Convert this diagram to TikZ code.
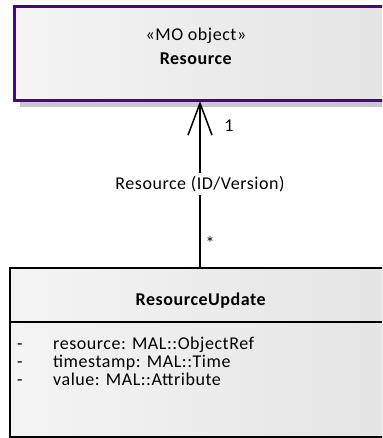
\documentclass[tikz,border=0pt]{standalone}
\usepackage{fontspec}
\setmainfont{Carlito}[LetterSpace=3]
\usetikzlibrary{arrows.meta}
\definecolor{umlpurple}{RGB}{80,0,140}
\definecolor{boxl}{RGB}{244,244,244}
\definecolor{boxr}{RGB}{228,228,228}
\definecolor{shadowgray}{RGB}{200,200,200}
\begin{document}
\begin{tikzpicture}[x=1pt,y=-1pt,
  classbox/.style={draw, line width=2pt, left color=boxl, right color=boxr, inner sep=0pt},
  txt/.style={font=\fontsize{18}{21}\selectfont, inner sep=0pt},
  conn/.style={line width=1.5pt, -{Straight Barb[length=32pt,width=24pt,line width=1.5pt]}},
]
\useasboundingbox (0,0) rectangle (382,438);
\clip (0,0) rectangle (382,438);
% shadows
\fill[shadowgray] (20,13) rectangle (400,107);
\fill[shadowgray] (14,271) rectangle (400,442);
% boxes
\node[classbox, draw=umlpurple, line width=3pt, minimum width=380pt, minimum height=94pt] (res) at (204,54) {};
\node[classbox, minimum width=384pt, minimum height=169pt] (ru) at (202,352) {};
\draw[line width=2pt] (ru.west |- 0,322) -- (ru.east |- 0,322);
% texts of Resource
\node[txt, anchor=base] (st) at (196,41) {«MO object»};
\node[txt, anchor=base] (rn) at (196,65) {\textbf{Resource}};
% texts of ResourceUpdate
\node[txt, anchor=base] (run) at (201,305) {\textbf{ResourceUpdate}};
\node[txt, anchor=base] (d1) at (20,349) {-};
\node[txt, anchor=base] (d2) at (20,367) {-};
\node[txt, anchor=base] (d3) at (20,385) {-};
\node[txt, anchor=base west] (a1) at (53,349) {resource: MAL::ObjectRef};
\node[txt, anchor=base west] (a2) at (53,367) {timestamp: MAL::Time};
\node[txt, anchor=base west] (a3) at (53,385) {value: MAL::Attribute};
% connector
\coordinate (top) at (200,101);
\coordinate (bot) at (200,267);
\draw[conn] (bot) -- (top)
  node[txt, midway, fill=white, inner sep=3pt] (lbl) {Resource (ID/Version)};
\node[txt, anchor=base] (m1) at (229,132) {1};
\node[txt, anchor=base] (m2) at (210,249) {*};
\end{tikzpicture}
\end{document}
